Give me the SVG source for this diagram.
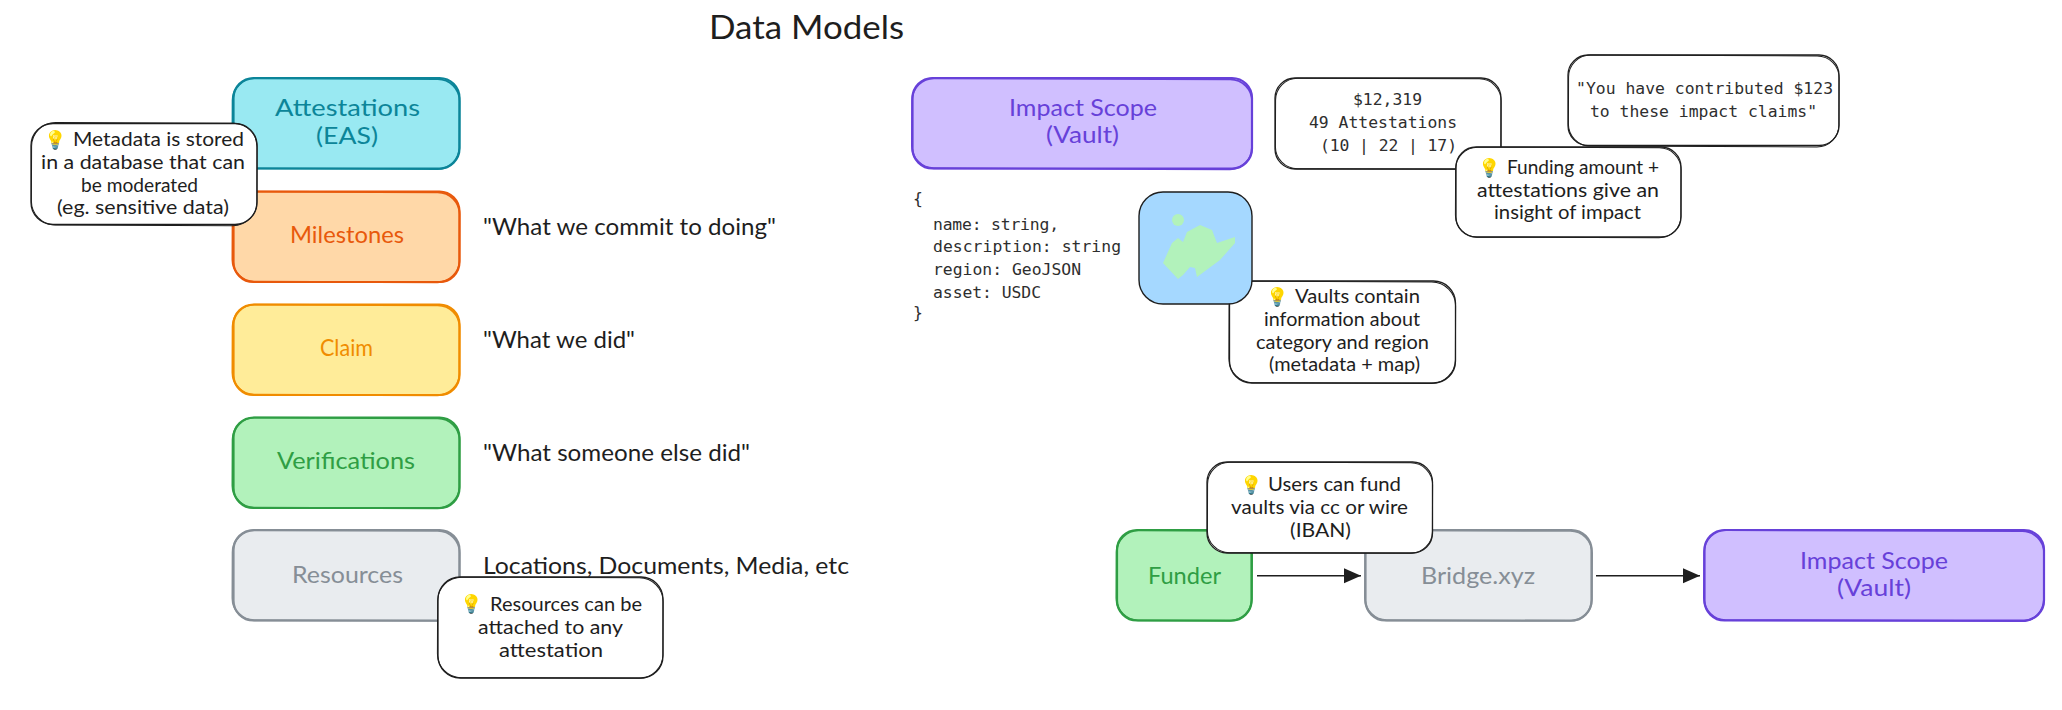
<svg xmlns="http://www.w3.org/2000/svg" width="2062" height="710" viewBox="0 0 2062 710">
<style>
text{font-family:"Lato","Noto Sans",sans-serif;text-anchor:start}
.lb{font-size:23px}.nt{font-size:18.5px;fill:#1e1e1e}.qt{font-size:24px;fill:#1e1e1e}
.mono{font-family:"DejaVu Sans Mono","Liberation Mono",monospace;font-size:16.4px;fill:#2e2e2e}
.emo{font-family:"Noto Color Emoji","Noto Sans",sans-serif;font-size:18px}
.s{stroke-width:2.2;stroke-linejoin:round}.s2{fill:none;stroke-width:1.8}
.k{fill:#fff;stroke:#1e1e1e;stroke-width:1.3}.k2{fill:none;stroke:#1e1e1e;stroke-width:1}
.s2,.k2{transform-box:fill-box;transform-origin:center;transform:rotate(.22deg)}
.cy{fill:#99e9f2;stroke:#0c8599}.cy2{stroke:#0c8599}.cyt{fill:#0c8599}
.or{fill:#ffd8a8;stroke:#e8590c}.or2{stroke:#e8590c}.ort{fill:#e8590c}
.ye{fill:#ffec99;stroke:#f08c00}.ye2{stroke:#f08c00}.yet{fill:#f08c00}
.gr{fill:#b2f2bb;stroke:#2f9e44}.gr2{stroke:#2f9e44}.grt{fill:#2f9e44}
.gy{fill:#e9ecef;stroke:#868e96}.gy2{stroke:#868e96}.gyt{fill:#868e96}
.pu{fill:#d0bfff;stroke:#6741d9}.pu2{stroke:#6741d9}.put{fill:#6741d9}
</style>
<defs>
<marker id="ah" markerUnits="userSpaceOnUse" markerWidth="18" markerHeight="18" refX="17" refY="9" orient="auto"><path d="M0 1.500L17 9L0 16.500Z" fill="#1e1e1e"/></marker>
</defs>
<g id="title"><text x="709" y="39" style="font-size:33px" fill="#1e1e1e" textLength="195" lengthAdjust="spacingAndGlyphs">Data Models</text></g>

<g id="attestations"><rect class="s cy" x="233.500" y="78" width="226" height="90.500" rx="20"/><rect class="s2 cy2" x="232.500" y="78.800" width="227" height="90" rx="22"/>
<text class="lb cyt" x="275" y="116" textLength="145" lengthAdjust="spacingAndGlyphs">Attestations</text><text class="lb cyt" x="316" y="144" textLength="62" lengthAdjust="spacingAndGlyphs">(EAS)</text></g>
<g id="milestones"><rect class="s or" x="233.500" y="191.500" width="226" height="90.500" rx="20"/><rect class="s2 or2" x="232.500" y="192" width="227" height="90" rx="22"/>
<text class="lb ort" x="290" y="243" textLength="114" lengthAdjust="spacingAndGlyphs">Milestones</text></g>
<g id="claim"><rect class="s ye" x="233.500" y="304.500" width="226" height="90.500" rx="20"/><rect class="s2 ye2" x="232.500" y="305" width="227" height="90" rx="22"/>
<text class="lb yet" x="320" y="356" textLength="53" lengthAdjust="spacingAndGlyphs">Claim</text></g>
<g id="verifications"><rect class="s gr" x="233.500" y="417.500" width="226" height="90.500" rx="20"/><rect class="s2 gr2" x="232.500" y="418" width="227" height="90" rx="22"/>
<text class="lb grt" x="277" y="469" textLength="138" lengthAdjust="spacingAndGlyphs">Verifications</text></g>
<g id="resources"><rect class="s gy" x="233.500" y="530" width="226" height="90.500" rx="20"/><rect class="s2 gy2" x="232.500" y="530.600" width="227" height="90" rx="22"/>
<text class="lb gyt" x="292" y="583" textLength="111" lengthAdjust="spacingAndGlyphs">Resources</text></g>

<g id="quotes">
<text class="qt" x="483" y="235" textLength="293" lengthAdjust="spacingAndGlyphs">"What we commit to doing"</text>
<text class="qt" x="483" y="348" textLength="152" lengthAdjust="spacingAndGlyphs">"What we did"</text>
<text class="qt" x="483" y="461" textLength="267" lengthAdjust="spacingAndGlyphs">"What someone else did"</text>
<text class="qt" x="483" y="574" textLength="366" lengthAdjust="spacingAndGlyphs">Locations, Documents, Media, etc</text>
</g>

<g id="note-metadata"><rect class="k" x="31" y="123.500" width="226" height="101" rx="22"/><rect class="k2" x="31.500" y="122.800" width="225.500" height="102.500" rx="24"/>
<text class="emo" x="44" y="146">💡</text><text class="nt" x="73" y="146" textLength="171" lengthAdjust="spacingAndGlyphs">Metadata is stored</text>
<text class="nt" x="41" y="169" textLength="204" lengthAdjust="spacingAndGlyphs">in a database that can</text>
<text class="nt" x="81" y="192" textLength="117" lengthAdjust="spacingAndGlyphs">be moderated</text>
<text class="nt" x="57" y="214" textLength="172" lengthAdjust="spacingAndGlyphs">(eg. sensitive data)</text></g>

<g id="note-resources"><rect class="k" x="438" y="577" width="225" height="101" rx="22"/><rect class="k2" x="437.500" y="577.500" width="225.500" height="100.500" rx="24"/>
<text class="emo" x="460" y="610">💡</text><text class="nt" x="490" y="611" textLength="152" lengthAdjust="spacingAndGlyphs">Resources can be</text>
<text class="nt" x="478" y="634" textLength="145" lengthAdjust="spacingAndGlyphs">attached to any</text>
<text class="nt" x="499" y="657" textLength="104" lengthAdjust="spacingAndGlyphs">attestation</text></g>

<g id="impact-scope"><rect class="s pu" x="912.500" y="78" width="339.500" height="90.500" rx="20"/><rect class="s2 pu2" x="912" y="78.800" width="340" height="90" rx="22"/>
<text class="lb put" x="1009" y="116" textLength="148" lengthAdjust="spacingAndGlyphs">Impact Scope</text><text class="lb put" x="1046" y="143" textLength="73" lengthAdjust="spacingAndGlyphs">(Vault)</text></g>

<g id="schema">
<text class="mono" x="913" y="204">{</text>
<text class="mono" x="933" y="230" textLength="126">name: string,</text>
<text class="mono" x="933" y="252" textLength="188">description: string</text>
<text class="mono" x="933" y="275" textLength="148">region: GeoJSON</text>
<text class="mono" x="933" y="298" textLength="108">asset: USDC</text>
<text class="mono" x="913" y="318">}</text>
</g>

<g id="note-vault"><rect class="k" x="1229.500" y="281" width="226" height="102" rx="22"/><rect class="k2" x="1229" y="281.600" width="226.500" height="101.500" rx="24"/>
<text class="emo" x="1266" y="303">💡</text><text class="nt" x="1295" y="303" textLength="125" lengthAdjust="spacingAndGlyphs">Vaults contain</text>
<text class="nt" x="1264" y="326" textLength="156" lengthAdjust="spacingAndGlyphs">information about</text>
<text class="nt" x="1256" y="349" textLength="173" lengthAdjust="spacingAndGlyphs">category and region</text>
<text class="nt" x="1269" y="371" textLength="151" lengthAdjust="spacingAndGlyphs">(metadata + map)</text></g>

<g id="map"><rect x="1139" y="192" width="113" height="112" rx="24" fill="#a5d8ff" stroke="#1e1e1e" stroke-width="1.4"/>
<circle cx="1178" cy="220" r="6" fill="#b2f2bb"/>
<path d="M1163 263L1172 243L1178 238L1183 242L1187 232L1200 225L1212 230L1217 243L1235 237L1235 243L1220 260L1197 277L1195 268L1190 267L1183 275L1178 279Z" fill="#b2f2bb"/></g>

<g id="stats"><rect class="k" x="1275" y="78" width="226" height="91" rx="20"/><rect class="k2" x="1275.500" y="78.500" width="225.500" height="90.500" rx="22"/>
<text class="mono" x="1353" y="105" textLength="69">$12,319</text>
<text class="mono" x="1309" y="128" textLength="148">49 Attestations</text>
<text class="mono" x="1320" y="151" textLength="137">(10 | 22 | 17)</text></g>

<g id="contribution"><rect class="k" x="1568" y="55" width="271" height="90.500" rx="20"/><rect class="k2" x="1568.500" y="55.500" width="270.500" height="91" rx="22"/>
<text class="mono" x="1576" y="94" textLength="257">"You have contributed $123</text>
<text class="mono" x="1590" y="117" textLength="227">to these impact claims"</text></g>

<g id="note-funding"><rect class="k" x="1456" y="147" width="225" height="90" rx="20"/><rect class="k2" x="1455.500" y="147.500" width="225.500" height="90" rx="22"/>
<text class="emo" x="1478" y="174">💡</text><text class="nt" x="1507" y="174" textLength="152" lengthAdjust="spacingAndGlyphs">Funding amount +</text>
<text class="nt" x="1477" y="197" textLength="182" lengthAdjust="spacingAndGlyphs">attestations give an</text>
<text class="nt" x="1494" y="219" textLength="147" lengthAdjust="spacingAndGlyphs">insight of impact</text></g>

<g id="funder"><rect class="s gr" x="1117" y="530" width="134.500" height="90.500" rx="20"/><rect class="s2 gr2" x="1116.500" y="530.600" width="135.500" height="90" rx="22"/>
<text class="lb grt" x="1148" y="584" textLength="73" lengthAdjust="spacingAndGlyphs">Funder</text></g>
<g id="bridge"><rect class="s gy" x="1365.500" y="530" width="226" height="90.500" rx="20"/><rect class="s2 gy2" x="1365" y="530.600" width="227" height="90" rx="22"/>
<text class="lb gyt" x="1421" y="584" textLength="114" lengthAdjust="spacingAndGlyphs">Bridge.xyz</text></g>
<g id="impact-scope-2"><rect class="s pu" x="1704.500" y="530" width="339.500" height="90.500" rx="20"/><rect class="s2 pu2" x="1704" y="530.600" width="340" height="90" rx="22"/>
<text class="lb put" x="1800" y="569" textLength="148" lengthAdjust="spacingAndGlyphs">Impact Scope</text><text class="lb put" x="1837" y="596" textLength="74" lengthAdjust="spacingAndGlyphs">(Vault)</text></g>

<g id="connectors" fill="none" stroke="#1e1e1e" stroke-width="1.4">
<path d="M1257 575.700L1361 575.700" marker-end="url(#ah)"/>
<path d="M1596 575.700L1700 575.700" marker-end="url(#ah)"/>
</g>

<g id="note-users"><rect class="k" x="1207" y="462" width="225.500" height="91" rx="20"/><rect class="k2" x="1207.500" y="462.500" width="225" height="90.500" rx="22"/>
<text class="emo" x="1240" y="491">💡</text><text class="nt" x="1268" y="491" textLength="133" lengthAdjust="spacingAndGlyphs">Users can fund</text>
<text class="nt" x="1231" y="514" textLength="177" lengthAdjust="spacingAndGlyphs">vaults via cc or wire</text>
<text class="nt" x="1290" y="537" textLength="61" lengthAdjust="spacingAndGlyphs">(IBAN)</text></g>
</svg>
